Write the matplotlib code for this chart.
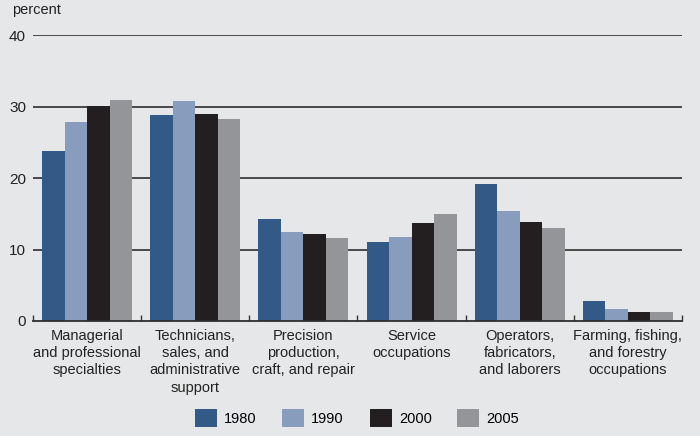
import matplotlib
matplotlib.use("Agg")
import matplotlib.pyplot as plt
from matplotlib.patches import Patch
import numpy as np

categories = [
    "Managerial\nand professional\nspecialties",
    "Technicians,\nsales, and\nadministrative\nsupport",
    "Precision\nproduction,\ncraft, and repair",
    "Service\noccupations",
    "Operators,\nfabricators,\nand laborers",
    "Farming, fishing,\nand forestry\noccupations",
]
years = ["1980", "1990", "2000", "2005"]
v1980 = [23.8, 28.8, 14.3, 11.0, 19.2, 2.8]
v1990 = [27.8, 30.7, 12.4, 11.8, 15.4, 1.7]
v2000 = [30.1, 29.0, 12.1, 13.7, 13.9, 1.3]
v2005 = [30.9, 28.3, 11.6, 14.9, 13.0, 1.3]
series = [v1980, v1990, v2000, v2005]
colors = ["#335a87", "#889cbd", "#231f20", "#939598"]
yticks = [0, 10, 20, 30, 40]

plt.rcParams["font.family"] = ["Liberation Sans", "DejaVu Sans"]
bg = "#e6e7e8"
fig = plt.figure(figsize=(7, 4.36), dpi=100, facecolor=bg)
ax = fig.add_axes([33 / 700, 1 - 321 / 436, (682 - 33) / 700, (321 - 35) / 436])
ax.set_facecolor(bg)

x = np.arange(len(categories))
w = 0.208
for i, (vals, c) in enumerate(zip(series, colors)):
    ax.bar(x + (i - 1.5) * w, vals, width=w, color=c, zorder=3, linewidth=0)

ax.set_xlim(-0.5, len(categories) - 0.5)
ax.set_ylim(0, 40)
ax.set_yticks(yticks)
ax.set_yticklabels([str(t) for t in yticks], fontsize=11, color="#222222")
ax.tick_params(axis="y", length=0, pad=5)
for t in yticks[1:]:
    ax.axhline(t, color="#2e2e2e", lw=1.2, zorder=1)

for s in ["top", "right", "left"]:
    ax.spines[s].set_visible(False)
ax.spines["bottom"].set_color("#2e2e2e")
ax.spines["bottom"].set_linewidth(1.3)
ax.spines["bottom"].set_zorder(4)

ax.set_xticks(x)
ax.set_xticklabels(categories, fontsize=10.5, color="#222222", linespacing=1.28)
ax.tick_params(axis="x", which="major", length=0, pad=6)
ax.set_xticks(np.arange(-0.5, len(categories)), minor=True)
ax.tick_params(axis="x", which="minor", direction="in", length=4, width=1, color="#333333")

fig.text(12 / 700, 1 - 14 / 436, "percent", fontsize=10.5, color="#222222", va="baseline", ha="left")

handles = [Patch(facecolor=c, edgecolor="none") for c in colors]
fig.legend(handles, years, loc="center", bbox_to_anchor=(357 / 700, 1 - 418 / 436), ncol=4,
           frameon=False, fontsize=10.5, handlelength=1.5, handleheight=1.5,
           handletextpad=0.5, columnspacing=1.76)

fig.savefig("out.png", dpi=100, facecolor=bg)
